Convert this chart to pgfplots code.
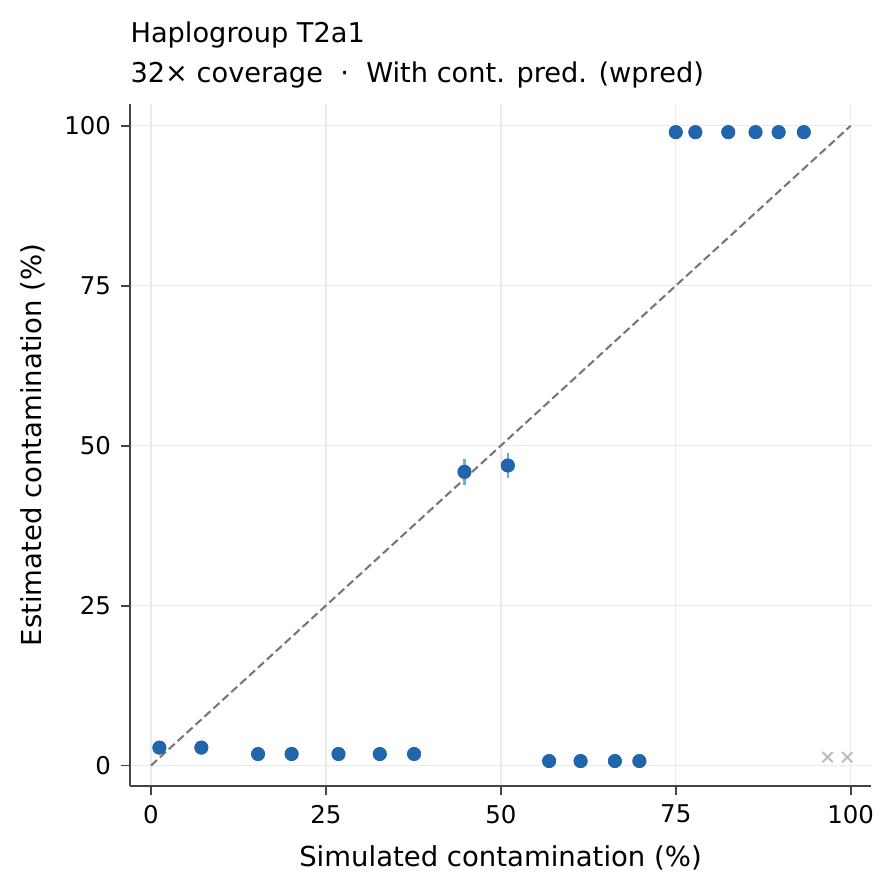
\documentclass[border=0pt]{standalone}
\usepackage{pgfplots}
\pgfplotsset{compat=1.18}
\usepackage{pgfplotstable}
\usepackage{fontspec}
\setmainfont{DejaVu Sans}
\definecolor{dotblue}{HTML}{2166AC}
\definecolor{errblue}{HTML}{6BAED6}
\definecolor{spine}{HTML}{444444}
\definecolor{gridc}{HTML}{EBEBEB}
\definecolor{crossc}{HTML}{BBBBBB}
\definecolor{diag}{HTML}{777777}

\pgfplotstableread{
x y err
1.2 2.8 0.3
7.2 2.8 0.3
15.3 1.8 0.3
20.1 1.8 0.3
26.8 1.8 0.3
32.7 1.8 0.3
37.6 1.8 0.3
44.8 45.9 2.0
51.0 46.9 2.0
56.9 0.7 0.3
61.4 0.7 0.3
66.3 0.7 0.3
69.8 0.7 0.3
75.0 99.0 0.2
77.8 99.0 0.2
82.5 99.0 0.2
86.4 99.0 0.2
89.7 99.0 0.2
93.3 99.0 0.2
}\estdata

\pgfplotstableread{
x y
96.7 1.3
99.5 1.3
}\faildata

\begin{document}
\begin{tikzpicture}
\useasboundingbox (-46.8pt,-38.52pt) rectangle (275.04pt,282.96pt);
\begin{axis}[
  scale only axis,
  width=266.76pt, height=245.52pt,
  xmin=-3, xmax=102.9, ymin=-3.2, ymax=103.4,
  axis x line*=bottom, axis y line*=left,
  axis line style={spine, line width=0.7pt},
  xtick={0,25,50,75,100}, ytick={0,25,50,75,100},
  tick align=outside, major tick length=3.3pt,
  tick style={spine, line width=0.7pt},
  minor tick num=0,
  grid=major,
  major grid style={gridc, line width=0.5pt},
  /pgf/number format/assume math mode=true,
  tick label style={font=\fontsize{8.8}{10.5}\selectfont, text=black},
  label style={font=\fontsize{9.9}{12}\selectfont},
  xlabel={Simulated contamination (\%)},
  ylabel={Estimated contamination (\%)},
  xlabel style={at={([yshift=-28.8pt]axis description cs:0.5,0)}, anchor=base},
  ylabel style={at={([xshift=-31.8pt]axis description cs:0,0.5)}, anchor=base},
  clip=false,
]
\addplot[diag, dashed, line width=0.75pt, dash pattern=on 2.9pt off 1.45pt] coordinates {(0,0) (100,100)};
\addplot[only marks, mark=*, mark size=2.3pt, mark options={fill=dotblue, draw=dotblue},
  error bars/.cd, y dir=both, y explicit, error mark=none,
  error bar style={errblue, line width=0.8pt}]
  table[x=x, y=y, y error=err] {\estdata};
\addplot[only marks, mark=*, mark size=2.3pt, mark options={fill=dotblue, draw=dotblue}]
  table[x=x, y=y] {\estdata};
\addplot[only marks, mark=x, mark size=2.6pt, mark options={draw=crossc, line width=0.7pt}]
  table[x=x, y=y] {\faildata};
\end{axis}
\node[anchor=base west, inner sep=0pt, font=\fontsize{9.8}{12}\selectfont] at (0pt,267.7pt) {Haplogroup T2a1};
\node[anchor=base west, inner sep=0pt, font=\fontsize{9.8}{12}\selectfont] at (0pt,253.2pt) {32× coverage\ \ ·\ \ With cont. pred. (wpred)};
\end{tikzpicture}
\end{document}
